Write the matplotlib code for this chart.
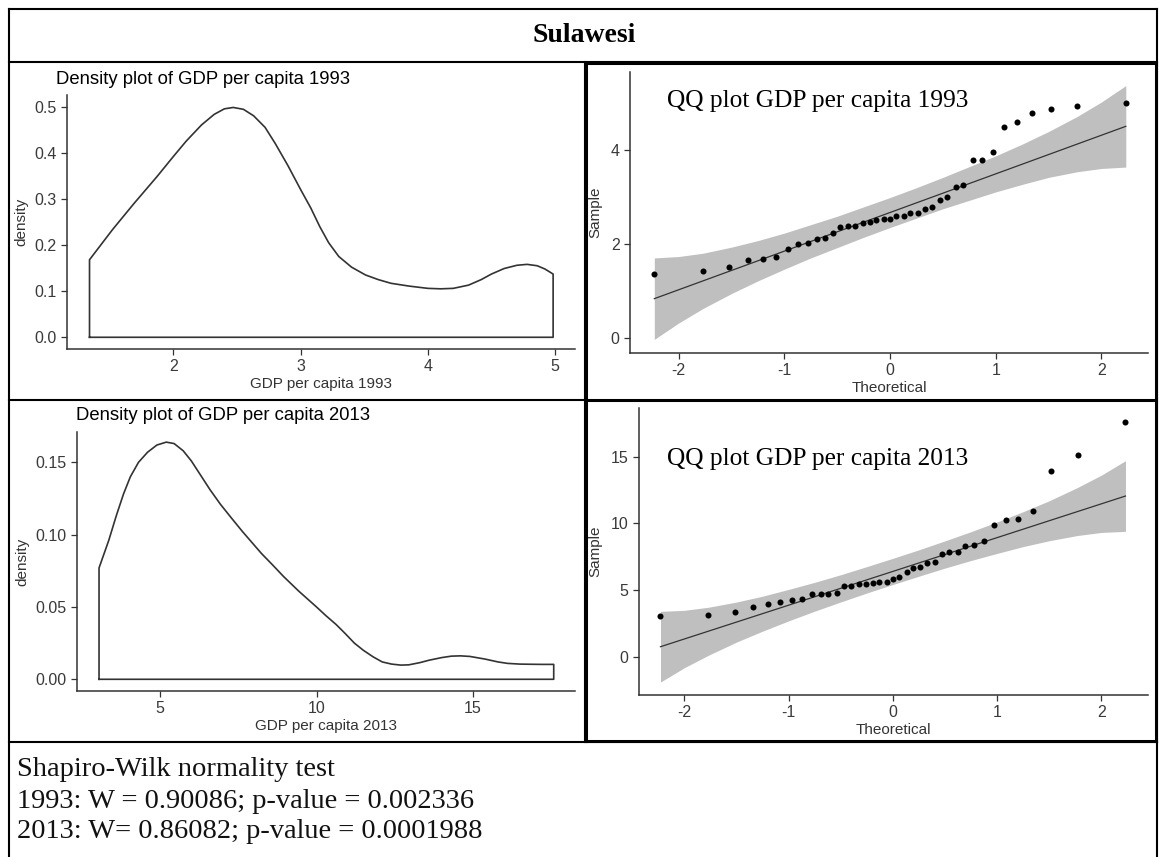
import matplotlib
matplotlib.use("Agg")
import matplotlib.pyplot as plt
from matplotlib.lines import Line2D

plt.rcParams['font.family'] = ['Liberation Sans', 'DejaVu Sans']
plt.rcParams['axes.unicode_minus'] = False

W, H = 1159, 857

# ---- data ----
theoretical = [-2.23, -1.77, -1.52, -1.34, -1.20, -1.08, -0.97, -0.87, -0.78, -0.69,
               -0.62, -0.54, -0.47, -0.40, -0.33, -0.26, -0.19, -0.13, -0.06, 0.00,
               0.06, 0.13, 0.19, 0.26, 0.33, 0.40, 0.47, 0.54, 0.62, 0.69,
               0.78, 0.87, 0.97, 1.08, 1.20, 1.34, 1.52, 1.77, 2.23]
sample_1993 = [1.35, 1.43, 1.51, 1.66, 1.67, 1.71, 1.89, 1.99, 2.01, 2.11,
               2.13, 2.23, 2.37, 2.39, 2.39, 2.45, 2.47, 2.51, 2.53, 2.53,
               2.59, 2.60, 2.65, 2.66, 2.74, 2.79, 2.93, 3.00, 3.21, 3.26,
               3.79, 3.79, 3.97, 4.50, 4.61, 4.79, 4.88, 4.94, 5.00]
sample_2013 = [3.05, 3.13, 3.37, 3.75, 3.92, 4.07, 4.25, 4.36, 4.68, 4.69,
               4.70, 4.80, 5.32, 5.33, 5.42, 5.44, 5.50, 5.57, 5.60, 5.82,
               6.00, 6.37, 6.68, 6.70, 7.05, 7.10, 7.72, 7.84, 7.87, 8.32,
               8.40, 8.67, 9.85, 10.22, 10.32, 10.92, 13.95, 15.15, 17.60]

line_x = [-2.23, 2.23]
line_1993 = [0.83, 4.51]
line_2013 = [0.75, 12.05]

band_x = [-2.23, -2.0, -1.77, -1.5, -1.25, -1.0, -0.75, -0.5, -0.25, 0.0,
          0.25, 0.5, 0.75, 1.0, 1.25, 1.5, 1.77, 2.0, 2.23]
band_1993_upper = [1.70, 1.73, 1.80, 1.93, 2.07, 2.23, 2.41, 2.59, 2.79, 2.99,
                   3.20, 3.42, 3.65, 3.88, 4.13, 4.40, 4.72, 5.03, 5.38]
band_1993_lower = [-0.04, 0.31, 0.62, 0.94, 1.21, 1.46, 1.70, 1.92, 2.14, 2.35,
                   2.55, 2.75, 2.93, 3.11, 3.27, 3.42, 3.54, 3.61, 3.64]
band_2013_upper = [3.40, 3.48, 3.71, 4.10, 4.54, 5.05, 5.58, 6.15, 6.76, 7.38,
                   8.02, 8.69, 9.38, 10.11, 10.88, 11.70, 12.69, 13.62, 14.70]
band_2013_lower = [-1.90, -0.82, 0.11, 1.10, 1.92, 2.69, 3.42, 4.11, 4.78, 5.42,
                   6.04, 6.65, 7.22, 7.75, 8.26, 8.70, 9.09, 9.32, 9.40]

dens_1993_x = [1.34, 1.52, 1.69, 1.87, 2.00, 2.10, 2.22, 2.32, 2.40, 2.47, 2.55,
               2.63, 2.72, 2.80, 2.90, 3.00, 3.08, 3.15, 3.22, 3.30, 3.40, 3.51,
               3.61, 3.71, 3.85, 4.00, 4.10, 4.20, 4.32, 4.42, 4.50, 4.60, 4.70,
               4.78, 4.86, 4.92, 4.985]
dens_1993_y = [0.168, 0.233, 0.290, 0.348, 0.392, 0.425, 0.460, 0.483, 0.495, 0.498, 0.494,
               0.480, 0.455, 0.420, 0.372, 0.320, 0.280, 0.240, 0.205, 0.175, 0.152, 0.135,
               0.125, 0.117, 0.111, 0.106, 0.105, 0.106, 0.113, 0.125, 0.137, 0.149, 0.156,
               0.158, 0.155, 0.148, 0.137]

dens_2013_x = [3.05, 3.36, 3.60, 3.83, 4.05, 4.31, 4.60, 4.90, 5.20, 5.45, 5.74, 6.00,
               6.33, 6.60, 6.93, 7.30, 7.64, 8.00, 8.24, 8.60, 8.95, 9.43, 10.00, 10.30,
               10.62, 10.90, 11.21, 11.50, 11.81, 12.10, 12.40, 12.70, 12.95, 13.30, 13.60,
               14.00, 14.31, 14.60, 14.90, 15.38, 15.80, 16.10, 16.50, 16.80, 17.20, 17.58]
dens_2013_y = [0.077, 0.096, 0.113, 0.128, 0.140, 0.150, 0.157, 0.162, 0.164, 0.163, 0.158, 0.151,
               0.140, 0.131, 0.121, 0.111, 0.102, 0.093, 0.087, 0.079, 0.071, 0.061, 0.050, 0.044,
               0.038, 0.032, 0.025, 0.020, 0.0155, 0.012, 0.0105, 0.0098, 0.0100, 0.0115, 0.0132,
               0.0150, 0.0160, 0.0162, 0.0158, 0.0140, 0.0120, 0.0110, 0.0105, 0.0104, 0.0103, 0.0103]

region = "Sulawesi"
shapiro_text = ["Shapiro-Wilk normality test",
                "1993: W = 0.90086; p-value = 0.002336",
                "2013: W= 0.86082; p-value = 0.0001988"]


def fx(px):
    return px / W


def fy(py):
    return 1 - py / H


fig = plt.figure(figsize=(W / 100, H / 100), dpi=100)


def axes_px(left, top, right, bottom):
    return fig.add_axes([fx(left), fy(bottom), fx(right) - fx(left), fy(top) - fy(bottom)])


def style(ax):
    ax.spines['top'].set_visible(False)
    ax.spines['right'].set_visible(False)
    for s in ('left', 'bottom'):
        ax.spines[s].set_color('#333333')
        ax.spines[s].set_linewidth(1.1)
    ax.tick_params(colors='#333333', labelcolor='#3a3a3a', labelsize=11.5, length=4, width=0.9)
    ax.patch.set_visible(False)


def density(ax, xs, ys):
    px = [xs[0]] + list(xs) + [xs[-1], xs[0]]
    py = [0] + list(ys) + [0, 0]
    ax.plot(px, py, color='#333333', lw=1.2, solid_joinstyle='round')


def qq(ax, sample, line_vals, upper, lower):
    ax.fill_between(band_x, lower, upper, color='#bfbfbf', lw=0)
    ax.plot(line_x, line_vals, color='#333333', lw=0.9)
    ax.scatter(theoretical, sample, s=19, color='black', zorder=3, linewidths=0)


# density 1993
ax1 = axes_px(67, 95, 575, 349)
density(ax1, dens_1993_x, dens_1993_y)
ax1.set_xlim(1.163, 5.157)
ax1.set_ylim(-0.0254, 0.525)
ax1.set_xticks([2, 3, 4, 5])
ax1.set_yticks([0, 0.1, 0.2, 0.3, 0.4, 0.5])
ax1.set_yticklabels(['0.0', '0.1', '0.2', '0.3', '0.4', '0.5'])
style(ax1)
ax1.set_xlabel('GDP per capita 1993', fontsize=11, color='#333333', labelpad=2)
ax1.set_ylabel('density', fontsize=11, color='#333333', labelpad=4)
fig.text(fx(56), fy(79), 'Density plot of GDP per capita 1993', fontsize=13.3,
         ha='left', va='center', color='black')

# density 2013
ax2 = axes_px(76.5, 432, 575, 691)
density(ax2, dens_2013_x, dens_2013_y)
ax2.set_xlim(2.33, 18.26)
ax2.set_ylim(-0.0081, 0.171)
ax2.set_xticks([5, 10, 15])
ax2.set_yticks([0, 0.05, 0.10, 0.15])
ax2.set_yticklabels(['0.00', '0.05', '0.10', '0.15'])
style(ax2)
ax2.set_xlabel('GDP per capita 2013', fontsize=11, color='#333333', labelpad=2)
ax2.set_ylabel('density', fontsize=11, color='#333333', labelpad=4)
fig.text(fx(76), fy(415), 'Density plot of GDP per capita 2013', fontsize=13.3,
         ha='left', va='center', color='black')

# QQ 1993
ax3 = axes_px(630, 72, 1148, 353)
qq(ax3, sample_1993, line_1993, band_1993_upper, band_1993_lower)
ax3.set_xlim(-2.46, 2.44)
ax3.set_ylim(-0.33, 5.67)
ax3.set_xticks([-2, -1, 0, 1, 2])
ax3.set_yticks([0, 2, 4])
style(ax3)
ax3.set_xlabel('Theoretical', fontsize=11, color='#333333', labelpad=2)
ax3.set_ylabel('Sample', fontsize=11, color='#333333', labelpad=6)
fig.text(fx(667), fy(101), 'QQ plot GDP per capita 1993', fontsize=18.3,
         family='Liberation Serif', ha='left', va='center', color='black')

# QQ 2013
ax4 = axes_px(639, 408, 1148, 695)
qq(ax4, sample_2013, line_2013, band_2013_upper, band_2013_lower)
ax4.set_xlim(-2.436, 2.446)
ax4.set_ylim(-2.87, 18.65)
ax4.set_xticks([-2, -1, 0, 1, 2])
ax4.set_yticks([0, 5, 10, 15])
style(ax4)
ax4.set_xlabel('Theoretical', fontsize=11, color='#333333', labelpad=2)
ax4.set_ylabel('Sample', fontsize=11, color='#333333', labelpad=6)
fig.text(fx(667), fy(459), 'QQ plot GDP per capita 2013', fontsize=18.3,
         family='Liberation Serif', ha='left', va='center', color='black')

# ---- table frame ----
def seg(x0, y0, x1, y1, lw=1.5):
    fig.add_artist(Line2D([fx(x0), fx(x1)], [fy(y0), fy(y1)], color='black', lw=lw,
                          transform=fig.transFigure, solid_capstyle='projecting'))


seg(9, 9, 1157, 9)
seg(9, 9, 9, 857)
seg(1157, 9, 1157, 857)
seg(9, 62, 1157, 62)
seg(9, 400, 585, 400)
seg(9, 742, 1157, 742)
seg(585, 62, 585, 742)
# right panels have heavier frames
seg(586, 63, 1156, 63, lw=2.2)
seg(586, 400, 1156, 400, lw=2.2)
seg(586, 741, 1156, 741, lw=2.2)
seg(586, 63, 586, 741, lw=2.2)
seg(1156, 63, 1156, 741, lw=2.2)

fig.text(fx(584), fy(36), region, fontsize=20, fontweight='bold',
         family='Liberation Serif', ha='center', va='center')

for i, t in enumerate(shapiro_text):
    fig.text(fx(17), fy(770 + 31 * i), t, fontsize=20.5, family='Liberation Serif',
             ha='left', va='center', color='#111111')

fig.savefig('out.png', dpi=100)
